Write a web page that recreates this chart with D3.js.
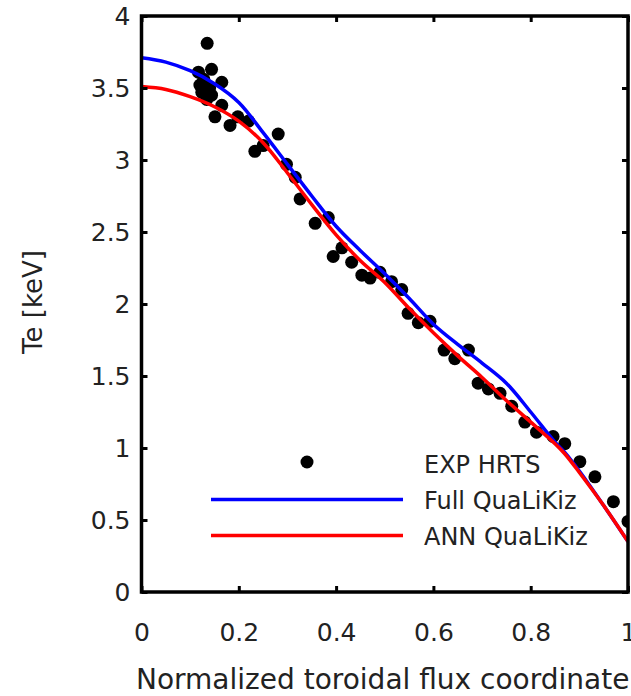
<!DOCTYPE html>
<html>
<head>
<meta charset="utf-8">
<style>
  body { margin: 0; background: #fff; }
  svg { display: block; }
  text { font-family: "DejaVu Sans", sans-serif; fill: #222; }
</style>
</head>
<body>
<script src="https://d3js.org/d3.v7.min.js"></script>
<div id="graph"></div>
<script>
// measured profile (EXP HRTS)
const expX = [0.135, 0.144, 0.117, 0.165, 0.120, 0.124, 0.144, 0.134, 0.165, 0.151,
              0.182, 0.198, 0.220, 0.281, 0.233, 0.250, 0.298, 0.316, 0.326, 0.357,
              0.384, 0.394, 0.412, 0.432, 0.453, 0.470, 0.490, 0.514, 0.535, 0.548,
              0.569, 0.593, 0.622, 0.644, 0.672, 0.692, 0.713, 0.737, 0.761, 0.788,
              0.812, 0.846, 0.870, 0.901, 0.932, 0.970, 1.000, 0.128, 0.140];
const expTe = [3.81, 3.63, 3.61, 3.54, 3.52, 3.47, 3.45, 3.42, 3.38, 3.30,
               3.24, 3.30, 3.27, 3.18, 3.06, 3.10, 2.97, 2.88, 2.73, 2.56,
               2.60, 2.33, 2.39, 2.29, 2.20, 2.18, 2.22, 2.155, 2.10, 1.935,
               1.87, 1.88, 1.68, 1.62, 1.68, 1.45, 1.41, 1.38, 1.29, 1.18,
               1.11, 1.08, 1.03, 0.905, 0.80, 0.627, 0.49, 3.56, 3.50];

// simulated profiles
const rho = [0, 0.05, 0.1, 0.15, 0.2, 0.25, 0.3, 0.35, 0.4, 0.45, 0.5,
             0.55, 0.6, 0.65, 0.7, 0.75, 0.8, 0.85, 0.87, 0.9, 0.95, 1.0];
const fullTe = [3.71, 3.68, 3.62, 3.53, 3.40, 3.19, 2.97, 2.75, 2.54, 2.37, 2.21,
                2.04, 1.86, 1.72, 1.59, 1.45, 1.25, 1.04, 0.97, 0.84, 0.60, 0.35];
const annTe = [3.51, 3.49, 3.44, 3.37, 3.27, 3.12, 2.91, 2.69, 2.48, 2.30, 2.15,
               1.97, 1.80, 1.64, 1.49, 1.33, 1.18, 1.03, 0.96, 0.83, 0.60, 0.35];

const xTicks = [0, 0.2, 0.4, 0.6, 0.8, 1];
const yTicks = [0, 0.5, 1, 1.5, 2, 2.5, 3, 3.5, 4];

const W = 631, H = 696;
const pLeft = 141.5, pRight = 628, pTop = 16, pBottom = 592;

const svg = d3.select("#graph").append("svg")
    .attr("width", W).attr("height", H);

const x = d3.scaleLinear().domain([0, 1]).range([pLeft, pRight]);
const y = d3.scaleLinear().domain([0, 4]).range([pBottom, pTop]);

svg.append("clipPath").attr("id", "plot")
  .append("rect")
    .attr("x", pLeft).attr("y", pTop)
    .attr("width", pRight - pLeft).attr("height", pBottom - pTop);

const plot = svg.append("g").attr("clip-path", "url(#plot)");

// data points
plot.append("g")
  .selectAll("circle")
  .data(expX.map((v, i) => [v, expTe[i]]))
  .join("circle")
    .attr("cx", d => x(d[0]))
    .attr("cy", d => y(d[1]))
    .attr("r", 6.5)
    .style("fill", "#000");

const line = d3.line()
    .x(d => x(d[0]))
    .y(d => y(d[1]))
    .curve(d3.curveCatmullRom.alpha(0.5));

plot.append("path")
    .datum(rho.map((v, i) => [v, fullTe[i]]))
    .attr("d", line)
    .style("fill", "none").style("stroke", "#0000ff").style("stroke-width", 3.5);

plot.append("path")
    .datum(rho.map((v, i) => [v, annTe[i]]))
    .attr("d", line)
    .style("fill", "none").style("stroke", "#ff0000").style("stroke-width", 3.5);

// axes with inward ticks (mirrored on top and right)
const fs = "25px";
const gx = svg.append("g")
    .attr("transform", `translate(0,${pBottom})`)
    .call(d3.axisBottom(x).tickValues(xTicks).tickFormat(d3.format("")).tickSize(-6).tickPadding(49));
const gy = svg.append("g")
    .attr("transform", `translate(${pLeft},0)`)
    .call(d3.axisLeft(y).tickValues(yTicks).tickFormat(d3.format("")).tickSize(-6).tickPadding(11));
svg.append("g")
    .attr("transform", `translate(0,${pTop})`)
    .call(d3.axisTop(x).tickValues(xTicks).tickFormat("").tickSize(-6));
svg.append("g")
    .attr("transform", `translate(${pRight},0)`)
    .call(d3.axisRight(y).tickValues(yTicks).tickFormat("").tickSize(-6));

svg.selectAll(".domain").remove();
svg.selectAll(".tick line").style("stroke", "#000").style("stroke-width", 3);
svg.selectAll(".tick text").style("font-size", fs).style("fill", "#222")
    .attr("font-family", "DejaVu Sans");
gx.selectAll(".tick text").attr("dy", "0");

// frame
svg.append("rect")
    .attr("x", pLeft).attr("y", pTop)
    .attr("width", pRight - pLeft).attr("height", pBottom - pTop)
    .style("fill", "none").style("stroke", "#000").style("stroke-width", 3.5);

// axis titles
svg.append("text")
    .attr("x", 136).attr("y", 689)
    .style("font-size", "28px")
    .text("Normalized toroidal flux coordinate");

svg.append("text")
    .attr("transform", "translate(42,302) rotate(-90)")
    .attr("text-anchor", "middle")
    .style("font-size", "26px")
    .text("Te [keV]");

// legend
const legend = svg.append("g");
legend.append("circle")
    .attr("cx", 307).attr("cy", 462).attr("r", 6.5).style("fill", "#000");
legend.append("line")
    .attr("x1", 211).attr("x2", 403).attr("y1", 499.5).attr("y2", 499.5)
    .style("stroke", "#0000ff").style("stroke-width", 3.5);
legend.append("line")
    .attr("x1", 211).attr("x2", 403).attr("y1", 535.5).attr("y2", 535.5)
    .style("stroke", "#ff0000").style("stroke-width", 3.5);
legend.selectAll("text.lab")
    .data(["EXP HRTS", "Full QuaLiKiz", "ANN QuaLiKiz"])
    .join("text")
    .attr("class", "lab")
    .attr("x", 424)
    .attr("y", (d, i) => 473 + i * 36)
    .style("font-size", "24px")
    .text(d => d);
</script>
</body>
</html>
